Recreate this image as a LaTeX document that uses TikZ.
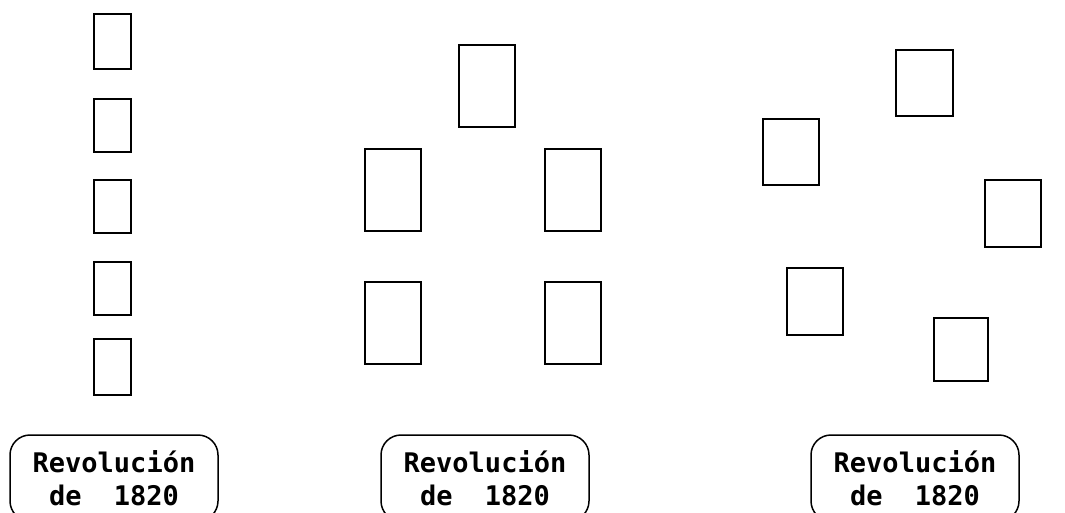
\documentclass[tikz,border=0pt]{standalone}
\usepackage{fontspec}
\newfontfamily\labelfont{DejaVu Sans Mono}
\begin{document}
\begin{tikzpicture}[x=1pt,y=-1pt,
  card/.style={draw=black, line width=2pt, inner sep=0pt, fill=white},
  tall/.style={card, minimum width=37pt, minimum height=53pt},
  wide/.style={card, minimum width=56pt, minimum height=82pt},
  sq/.style={card, minimum width=55pt, minimum height=66pt},
  event/.style={draw=black, line width=1.5pt, rounded corners=20pt,
    minimum width=208pt, minimum height=86pt, inner sep=0pt, align=center,
    font=\labelfont\bfseries\fontsize{27}{33}\selectfont}]
\useasboundingbox (0,0) rectangle (1065,512);
\clip (0,0) rectangle (1065,512);
\fill[white] (0,0) rectangle (1065,512);

% left group: a single column of cards
\node[tall, minimum height=55pt] (a1) at (112,41.5) {};
\node[tall] (a2) at (112,125) {};
\node[tall] (a3) at (112,206.5) {};
\node[tall] (a4) at (112,288) {};
\node[tall, minimum height=56pt] (a5) at (112,367) {};

% middle group: two columns under a top card
\node[wide] (b1) at (486.5,85.5) {};
\node[wide] (b2) at (393,189.5) {};
\node[wide] (b3) at (572.5,189.5) {};
\node[wide] (b4) at (393,322.5) {};
\node[wide] (b5) at (572.5,322.5) {};

% right group: scattered cards
\node[sq, minimum width=57pt] (c1) at (924.5,82.5) {};
\node[sq, minimum width=56pt] (c2) at (791,152) {};
\node[sq, minimum width=56pt, minimum height=67pt] (c3) at (1013,213.5) {};
\node[sq, minimum width=56pt, minimum height=67pt] (c4) at (815,301.5) {};
\node[sq, minimum width=54pt, minimum height=63pt] (c5) at (961,349.5) {};

% event labels
\node[event] (e1) at (114,478) {Revolución\\de\hspace{0.6em} 1820};
\node[event] (e2) at (485,478) {Revolución\\de\hspace{0.6em} 1820};
\node[event] (e3) at (915,478) {Revolución\\de\hspace{0.6em} 1820};
\end{tikzpicture}
\end{document}
